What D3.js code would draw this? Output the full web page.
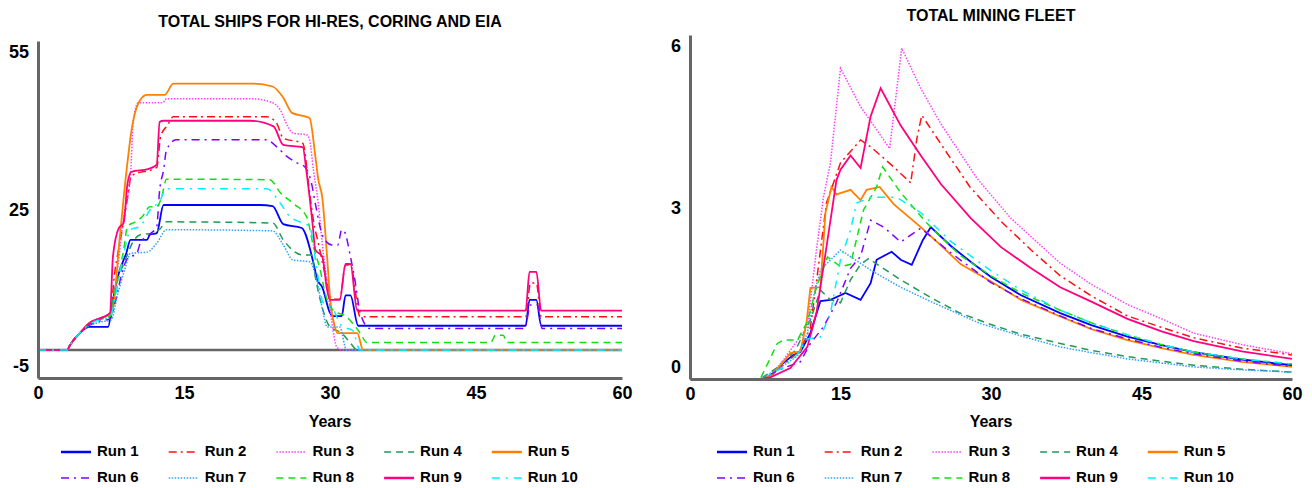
<!DOCTYPE html>
<html lang="en">
<head>
<meta charset="utf-8">
<title>total ships / total mining fleet</title>
<script src="https://d3js.org/d3.v7.min.js"></script>
<style type="text/css">
  body { margin: 0; background: #fff; }
  text { font-family: "Liberation Sans", Arial, sans-serif; font-weight: bold; fill: #000; }
  .title { font-size: 16px; }
  .axis text { font-size: 18px; font-family: "Liberation Sans", Arial, sans-serif; font-weight: bold; fill: #000; }
  .axis path { stroke: #666; stroke-width: 3px; }
  .xlabel { font-size: 16px; }
  .legend text { font-size: 15px; }
  .run { fill: none; }
</style>
</head>
<body>
<script type="text/javascript">

// tick labels and names
var xTicks = [0, 15, 30, 45, 60];
var shipsTicks = [-5, 25, 55];
var fleetTicks = [0, 3, 6];
var runNames = ["Run 1", "Run 2", "Run 3", "Run 4", "Run 5", "Run 6", "Run 7", "Run 8", "Run 9", "Run 10"];

// total ships for hi-res, coring and EIA   [year, ships]
var ships1 = [[0,0],[3,0],[3.3,0.9],[4.3,3],[5.3,4.1],[7.2,4.1],[7.7,8.9],[8.2,13],[9.1,17.4],[9.5,19.6],[11.2,19.6],[11.5,20.5],[12.2,20.8],[12.9,25.8],[22.8,25.8],[24.1,25.6],[25.2,22.4],[27.1,21.7],[28.3,15.5],[28.7,12.5],[29.2,11.2],[30,6.6],[30.3,6],[31.2,6],[31.6,9.7],[32.1,9.7],[32.9,4.3],[50.1,4.3],[50.5,8.9],[51.2,8.9],[51.7,4.3],[60,4.3]];
var ships2 = [[0,0],[3,0],[3.3,0.9],[4.3,3],[5.3,4.8],[6.5,5.7],[7.4,6.5],[7.9,14],[8.5,20],[9.1,26],[9.6,31],[12.2,32.5],[12.6,38],[13.3,40],[13.9,41.5],[23.5,41.5],[24.5,40.4],[25.2,37.7],[27.2,36.8],[27.9,28],[28.3,23],[28.8,19],[29.7,12],[30.2,9],[31,9],[31.6,15.1],[32.1,15.1],[33.1,5.9],[50.1,5.9],[50.6,11.9],[51.2,11.9],[51.7,5.9],[60,5.9]];
var ships3 = [[0,0],[3,0],[3.3,0.9],[4.3,3],[5.3,4.8],[6.5,5.7],[7.4,6.2],[8,12],[8.8,23.7],[9.5,31],[9.8,41],[10.3,44],[12.8,44],[13.2,44.7],[22.1,44.7],[24.1,44],[24.9,42.7],[25.6,40],[26.2,38.6],[27.6,38.3],[27.9,37.4],[28.3,32],[28.8,26],[29.2,19],[29.7,12],[30.2,4.8],[30.7,0.5],[31.2,0],[60,0]];
var ships4 = [[0,0],[3,0],[3.3,0.9],[4.3,3],[5.3,4.6],[6.5,5.5],[7.3,5.8],[7.8,10],[8.5,14],[9.2,17],[9.6,18.7],[10.5,20.5],[11.8,20.8],[12.5,21.5],[13.2,22.8],[24.1,22.6],[25.2,19.6],[27.2,16.9],[28.1,16.9],[28.5,12.9],[29,8.9],[30,4.1],[31.2,3],[32.1,1.2],[32.8,0],[60,0]];
var ships5 = [[0,0],[3,0],[3.3,0.9],[4.3,3],[5.3,4.8],[6.5,5.7],[7.6,6.5],[8.4,20],[9.1,32],[9.6,39],[10.5,44.5],[11.2,45.4],[13,45.4],[13.9,47.4],[22.1,47.4],[24.1,46.9],[25.2,44.9],[26.1,42.2],[27.6,41.5],[27.9,41.3],[28.5,34.4],[28.8,30.3],[29.2,27.2],[29.7,16.6],[30,9.4],[30.5,4.1],[30.8,3],[32.8,3],[33.4,0],[60,0]];
var ships6 = [[0,0],[3,0],[3.3,0.9],[4.3,3],[5.3,4.4],[6.5,5.2],[7.4,5.5],[8,9],[8.6,13.5],[9.1,16],[10.2,17.4],[10.5,19],[11.5,20.6],[12.2,22],[12.5,28.5],[12.9,32],[13.2,35.6],[14.2,37.4],[23.5,37.4],[24.5,36.2],[25.6,34.4],[26.6,33.3],[27.4,32.6],[28.1,29.7],[28.5,26],[29.3,20.1],[30.2,18.7],[30.8,18.7],[31.2,21.4],[31.5,21],[32.1,16.6],[32.6,12],[33.1,6.6],[34.1,3.8],[50,3.8],[50.6,8],[51.3,8],[51.8,3.8],[60,3.8]];
var ships7 = [[0,0],[3,0],[3.3,0.9],[4.3,3],[5.3,4.3],[6.5,5],[7.5,5.3],[8.2,10],[9,14.8],[9.5,17.2],[11.2,17.4],[12.2,19],[13.2,21.4],[24.1,21.2],[25.2,18.7],[26.2,16],[27.9,15.7],[28.7,11.9],[29.3,6.6],[29.7,4.1],[31,4.1],[31.7,0],[60,0]];
var ships8 = [[0,0],[3,0],[3.3,0.9],[4.3,3],[5.3,4.8],[6.5,5.6],[7.4,6],[8,11],[8.8,17.8],[9.2,22],[10,22.8],[10.7,23.7],[11.5,25.5],[12.2,25.5],[12.7,27.2],[13.2,30.4],[23.8,30.3],[24.9,28],[26.2,26.1],[27.6,23.7],[28.3,18.4],[29,14.2],[29.5,10.1],[30.3,7.1],[31.7,5.9],[33.1,3],[33.8,1.3],[46.5,1.3],[47,2.6],[47.8,2.6],[48.2,1.3],[60,1.3]];
var ships9 = [[0,0],[3,0],[3.3,0.9],[4.3,3],[5.3,4.8],[6.5,5.7],[7.4,6.6],[7.7,16.6],[8.3,21.7],[8.8,22.6],[9.2,29.7],[9.6,31.7],[11.3,32.2],[12.2,33],[12.5,40.6],[12.9,40.8],[21.8,40.8],[24.2,39.8],[25.2,36.5],[27.2,36.1],[27.6,31.5],[28.2,22.6],[28.5,17.8],[29.2,16.6],[29.7,10.7],[30,8.9],[31,8.9],[31.6,15.3],[32.1,15.3],[32.8,7],[50.1,7],[50.5,13.9],[51.2,13.9],[51.7,7],[60,7]];
var ships10 = [[0,0],[3,0],[3.3,0.9],[4.3,3],[5.3,4.6],[6.5,5.4],[7.4,5.8],[8,10],[8.8,17],[9.5,21.4],[10.5,22],[11.5,24.9],[12.5,26.5],[13.2,28.7],[23.5,28.7],[24.9,26.1],[25.9,23.7],[26.9,22.8],[27.9,22],[28.7,13.7],[29.3,8.4],[30.2,7.5],[31.3,4.1],[32.3,3.5],[33.1,0],[60,0]];

// total mining fleet   [year, ships]
var fleet1 = [[0,0],[7,0],[8,0.05],[9.3,0.28],[10.3,0.42],[11,0.47],[12,0.8],[13,1.36],[14,1.38],[15.5,1.5],[17,1.38],[18,1.67],[18.6,2.08],[20.1,2.22],[21,2.08],[22.1,1.99],[23.2,2.42],[24,2.65],[26,2.32],[28,2.04],[30,1.78],[33,1.46],[36.9,1.15],[40,0.94],[43.6,0.74],[47,0.59],[50.2,0.47],[55,0.34],[60,0.24]];
var fleet2 = [[0,0],[7,0],[8,0.04],[9.3,0.25],[11,0.5],[12,0.9],[12.5,1.55],[13.6,3.07],[15,3.77],[17,4.17],[18,4.05],[20.3,3.7],[22,3.42],[22.6,4.18],[23.1,4.6],[25,4.1],[27.9,3.35],[31,2.75],[34,2.25],[36.9,1.8],[40,1.45],[43.6,1.1],[47,0.9],[50.2,0.72],[55,0.54],[60,0.42]];
var fleet3 = [[0,0],[7,0],[8,0.05],[9.3,0.33],[11.7,0.91],[12.6,2.25],[13.3,3.17],[14,3.77],[15,5.42],[17,4.75],[18.6,4.35],[19.9,4.02],[21.1,5.77],[23,5.07],[25,4.45],[28.6,3.5],[32,2.8],[36.9,2.02],[40,1.65],[43.6,1.3],[47,1.05],[50.2,0.8],[55,0.6],[60,0.44]];
var fleet4 = [[0,0],[7,0],[8.7,0.2],[10.5,0.5],[12,1.03],[13,1.55],[14,1.38],[15,1.33],[16,1.73],[17,2],[17.8,2.1],[21,1.73],[24,1.42],[26.9,1.15],[30,0.95],[33,0.78],[36.9,0.62],[40,0.5],[43.6,0.39],[47,0.31],[50.2,0.24],[55,0.17],[60,0.12]];
var fleet5 = [[0,0],[7,0],[8,0.05],[9.3,0.3],[10,0.45],[11,0.48],[11.6,0.97],[12,1.59],[13,1.6],[13.5,2.9],[14.1,3.35],[14.6,3.22],[16,3.3],[17,3.12],[17.6,3.3],[18.9,3.35],[20.3,3.05],[23,2.65],[25,2.33],[27,2.0],[30,1.7],[33,1.38],[36.9,1.09],[40,0.87],[43.6,0.68],[47,0.54],[50.2,0.42],[55,0.3],[60,0.21]];
var fleet6 = [[0,0],[7,0],[9.3,0.19],[11,0.3],[12,0.62],[13.3,0.91],[14.6,1.33],[16,1.93],[17,2.14],[18,2.77],[19.3,2.65],[21,2.39],[23,2.63],[26,2.2],[30,1.68],[33,1.4],[36.9,1.1],[40,0.88],[43.6,0.7],[47,0.55],[50.2,0.44],[55,0.31],[60,0.22]];
var fleet7 = [[0,0],[7,0],[9,0.2],[10.7,0.4],[11.7,0.8],[12.3,1.43],[13,1.9],[15,2.25],[18,1.9],[21,1.6],[24,1.35],[28.9,0.97],[33,0.75],[36.9,0.56],[40,0.46],[43.6,0.35],[47,0.28],[50.2,0.21],[55,0.16],[60,0.12]];
var fleet8 = [[0,0],[7,0],[8.7,0.62],[9.3,0.68],[10.7,0.68],[11.7,1],[12.6,1.6],[13.7,2.13],[15,1.96],[16,2],[17.3,2.95],[18.6,3.35],[19.2,3.7],[21,3.25],[23.6,2.72],[26.9,2.16],[30,1.8],[33,1.5],[36.9,1.2],[40,0.98],[43.6,0.77],[47,0.6],[50.2,0.47],[55,0.35],[60,0.26]];
var fleet9 = [[0,0],[7,0],[8,0.03],[10,0.19],[11.7,0.56],[12.6,1.15],[13.6,2.3],[14.6,3.47],[15,3.65],[16,3.9],[17,3.68],[18,4.58],[19,5.07],[21,4.42],[23,3.9],[25,3.4],[28,2.8],[31,2.3],[34,1.93],[36.9,1.6],[40,1.35],[43.6,1.05],[47,0.83],[50.2,0.66],[55,0.48],[60,0.35]];
var fleet10 = [[0,0],[7,0],[9.3,0.2],[10.7,0.43],[11.7,0.7],[13,0.73],[14,1.15],[15,2.08],[16,2.6],[16.6,3.07],[18,3.17],[20.6,3.17],[23,2.9],[26,2.4],[29.9,1.9],[33,1.55],[36.9,1.2],[40,0.98],[43.6,0.77],[47,0.6],[50.2,0.47],[55,0.35],[60,0.26]];

// line styles per run
var runColors = ["#0000ff", "#ff1010", "#ff40ff", "#229955", "#ff8000", "#8000ff", "#30a0ff", "#10e010", "#ff0080", "#00f0ff"];
var runDashes = [null, "8,4,2,4", "1.5,1.5", "7,5", null, "8,5,2,5", "1.5,1.5", "7,5", null, "8,6,2,6"];

var w = 1312, h = 488;

var svg = d3.select("body")
            .append("svg")
            .attr("width", w)
            .attr("height", h);

function drawChart(cfg) {

  var xScale = d3.scaleLinear()
                 .domain([0, 60])
                 .range([cfg.left, cfg.right]);

  var yScale = d3.scaleLinear()
                 .domain([cfg.ticks[0], cfg.ticks[cfg.ticks.length - 1]])
                 .range([cfg.bottom, cfg.top]);

  var g = svg.append("g");

  // zero line (only when the axis goes below 0)
  if (cfg.ticks[0] < 0) {
    g.append("line")
     .attr("x1", cfg.left).attr("x2", cfg.right)
     .attr("y1", yScale(0)).attr("y2", yScale(0))
     .attr("stroke", "#666")
     .attr("stroke-width", 2.5);
  }

  var lineGen = d3.line()
                  .x(d => xScale(d[0]))
                  .y(d => yScale(d[1]))
                  .curve(cfg.curve);

  cfg.series.forEach(function(s, i) {
    g.append("path")
     .datum(s)
     .attr("class", "run")
     .attr("d", lineGen)
     .attr("stroke", runColors[i])
     .attr("stroke-width", runDashes[i] ? 1.5 : 1.8)
     .attr("stroke-dasharray", runDashes[i]);
  });

  // axes
  var yMin = cfg.ticks[0], yMax = cfg.ticks[cfg.ticks.length - 1];
  var yAxis = d3.axisLeft(yScale)
                .tickValues(cfg.ticks)
                .tickSize(0)
                .tickSizeOuter(0)
                .tickPadding(9)
                .tickFormat(d => String(d));

  g.append("g")
   .attr("class", "axis")
   .attr("transform", `translate(${cfg.left},0)`)
   .call(yAxis)
   .selectAll("text")
   .attr("dy", d => d === yMin ? -7 : d === yMax ? 16 : 6);

  var xAxis = d3.axisBottom(xScale)
                .tickValues(xTicks)
                .tickSize(0)
                .tickSizeOuter(0)
                .tickPadding(8);

  g.append("g")
   .attr("class", "axis")
   .attr("transform", `translate(0,${cfg.bottom})`)
   .call(xAxis);

  g.append("text")
   .attr("class", "title")
   .attr("x", cfg.titleX).attr("y", cfg.titleY)
   .attr("text-anchor", "middle")
   .text(cfg.title);

  g.append("text")
   .attr("class", "xlabel")
   .attr("x", (cfg.left + cfg.right) / 2).attr("y", 427)
   .attr("text-anchor", "middle")
   .text("Years");

  // legend, 2 rows of 5
  var legend = g.append("g").attr("class", "legend");
  runNames.forEach(function(name, i) {
    var lx = cfg.legendX + (i % 5) * 107.7;
    var ly = i < 5 ? 456 : 482;
    legend.append("line")
          .attr("x1", lx).attr("x2", lx + 30)
          .attr("y1", ly - 4).attr("y2", ly - 4)
          .attr("stroke", runColors[i])
          .attr("stroke-width", runDashes[i] ? 1.5 : 2.5)
          .attr("stroke-dasharray", runDashes[i]);
    legend.append("text")
          .attr("x", lx + 36).attr("y", ly)
          .text(name);
  });
}

drawChart({
  title: "TOTAL SHIPS FOR HI-RES, CORING AND EIA",
  titleX: 330, titleY: 27,
  left: 38, right: 622, top: 41, bottom: 378,
  ticks: shipsTicks,
  legendX: 61,
  curve: d3.curveMonotoneX,
  series: [ships1, ships2, ships3, ships4, ships5, ships6, ships7, ships8, ships9, ships10]
});

drawChart({
  title: "TOTAL MINING FLEET",
  titleX: 991, titleY: 21,
  left: 690, right: 1292, top: 35, bottom: 379,
  ticks: fleetTicks,
  legendX: 717,
  curve: d3.curveLinear,
  series: [fleet1, fleet2, fleet3, fleet4, fleet5, fleet6, fleet7, fleet8, fleet9, fleet10]
});

</script>
</body>
</html>
